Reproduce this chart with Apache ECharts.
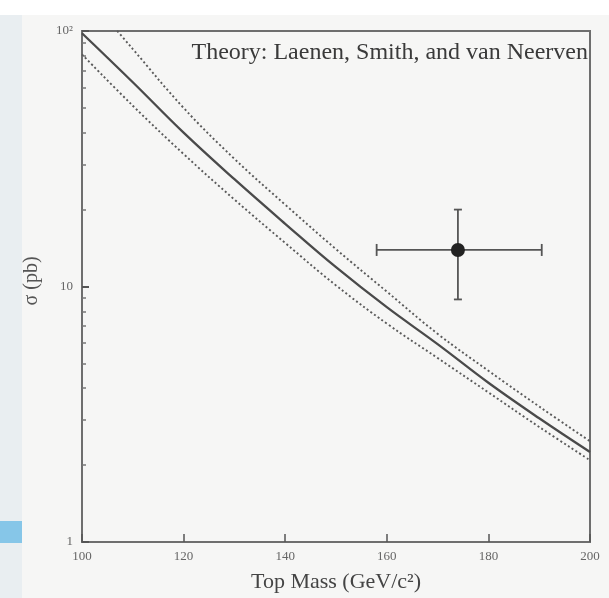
<!DOCTYPE html>
<html>
<head>
<meta charset="utf-8">
<script src="https://cdn.jsdelivr.net/npm/echarts@6/dist/echarts.min.js"></script>
<style>
  html, body { margin: 0; padding: 0; background: #f6f6f5; }
  #chart { width: 609px; height: 598px; }
</style>
</head>
<body>
<div id="chart"></div>
<script>
// top mass (GeV/c^2) where the theory curves are read
const masses = [100, 110, 120, 130, 140, 150, 160, 170, 180, 190, 200];
// theory cross sections (pb): central, upper and lower bound
const sigmaCentral = [98, 63, 40, 26.3, 17.6, 11.9, 8.3, 5.95, 4.2, 3.05, 2.25];
const sigmaUpper = [145, 85, 50, 31.6, 20.9, 14.0, 9.55, 6.53, 4.68, 3.39, 2.48];
const sigmaLower = [81, 51, 33, 21.9, 14.8, 10.1, 7.16, 5.25, 3.85, 2.82, 2.09];
// measured point: mass, sigma, mass low, mass high, sigma low, sigma high
const measured = [[174, 13.9, 158, 190.5, 8.9, 20.0]];
// axis ticks
const xTicks = [100, 120, 140, 160, 180, 200];
const yMajor = [1, 10, 100];
const yMinor = [2, 3, 4, 5, 6, 7, 8, 9, 20, 30, 40, 50, 60, 70, 80, 90];

const serif = "'Liberation Serif', 'DejaVu Serif', serif";
const axisCol = '#6e6e6e';

function pairs(ys) {
  return masses.map((m, i) => [m, ys[i]]);
}

const chart = echarts.init(document.getElementById('chart'));

chart.setOption({
  backgroundColor: '#f6f6f5',
  animation: false,
  grid: { left: 82, right: 19, top: 31, bottom: 55, show: true, borderColor: axisCol, borderWidth: 2, backgroundColor: 'transparent' },
  xAxis: {
    type: 'value', min: 100, max: 200, interval: 20,
    axisLine: { lineStyle: { color: axisCol, width: 2 } },
    axisTick: { inside: true, length: 8, lineStyle: { color: '#555', width: 1.5 } },
    splitLine: { show: false },
    axisLabel: { color: '#666', fontFamily: serif, fontSize: 13, margin: 8, customValues: xTicks },
    name: 'Top Mass (GeV/c²)', nameLocation: 'middle', nameGap: 29,
    nameTextStyle: { color: '#444', fontFamily: serif, fontSize: 22 }
  },
  yAxis: [{
    type: 'log', logBase: 10, min: 1, max: 100,
    axisLine: { show: true, lineStyle: { color: axisCol, width: 2 } },
    axisTick: { show: true, inside: true, length: 7, customValues: yMajor, lineStyle: { color: '#555', width: 2 } },
    splitLine: { show: false },
    axisLabel: {
      color: '#666', fontFamily: serif, fontSize: 13, margin: 9, customValues: yMajor,
      formatter: v => (v === 100 ? '10²' : String(v))
    }
  }, {
    type: 'log', logBase: 10, min: 1, max: 100, position: 'left',
    axisLine: { show: false },
    axisTick: { show: true, inside: true, length: 4, customValues: yMinor, lineStyle: { color: '#777', width: 1.5 } },
    splitLine: { show: false },
    axisLabel: { show: false }
  }],
  graphic: [
    { type: 'rect', z: -10, shape: { x: 0, y: 15, width: 22, height: 583 }, style: { fill: '#e9eef1' } },
    { type: 'rect', z: -9, shape: { x: 0, y: 521, width: 22, height: 22 }, style: { fill: '#86c6e8' } },
    { type: 'rect', z: -10, shape: { x: 0, y: 0, width: 609, height: 15 }, style: { fill: '#ffffff' } },
    {
      type: 'text', right: 21, top: 41,
      style: { text: 'Theory: Laenen, Smith, and van Neerven', fill: '#3a3a3a', font: '24px ' + serif }
    },
    {
      type: 'text', x: 32, y: 281, rotation: Math.PI / 2,
      style: { text: 'σ (pb)', fill: '#555', font: '20px ' + serif, align: 'center', verticalAlign: 'middle' }
    }
  ],
  series: [
    {
      type: 'line', name: 'upper', data: pairs(sigmaUpper), smooth: 0.4, showSymbol: false,
      lineStyle: { color: '#5a5a5a', width: 1.9, type: [2, 2.5] }
    },
    {
      type: 'line', name: 'central', data: pairs(sigmaCentral), smooth: 0.4, showSymbol: false,
      lineStyle: { color: '#4a4a4a', width: 2.3 }
    },
    {
      type: 'line', name: 'lower', data: pairs(sigmaLower), smooth: 0.4, showSymbol: false,
      lineStyle: { color: '#5a5a5a', width: 1.9, type: [2, 2.5] }
    },
    {
      type: 'custom', name: 'CDF', data: measured,
      encode: { x: [0, 2, 3], y: [1, 4, 5] },
      renderItem: function (params, api) {
        const c = api.coord([api.value(0), api.value(1)]);
        const l = api.coord([api.value(2), api.value(1)]);
        const r = api.coord([api.value(3), api.value(1)]);
        const b = api.coord([api.value(0), api.value(4)]);
        const t = api.coord([api.value(0), api.value(5)]);
        const st = { stroke: '#555', lineWidth: 1.8 };
        return {
          type: 'group',
          children: [
            { type: 'line', shape: { x1: l[0], y1: l[1], x2: r[0], y2: r[1] }, style: st },
            { type: 'line', shape: { x1: b[0], y1: b[1], x2: t[0], y2: t[1] }, style: st },
            { type: 'line', shape: { x1: l[0], y1: l[1] - 6, x2: l[0], y2: l[1] + 6 }, style: st },
            { type: 'line', shape: { x1: r[0], y1: r[1] - 6, x2: r[0], y2: r[1] + 6 }, style: st },
            { type: 'line', shape: { x1: t[0] - 4, y1: t[1], x2: t[0] + 4, y2: t[1] }, style: st },
            { type: 'line', shape: { x1: b[0] - 4, y1: b[1], x2: b[0] + 4, y2: b[1] }, style: st },
            { type: 'circle', shape: { cx: c[0], cy: c[1], r: 7 }, style: { fill: '#222' } }
          ]
        };
      }
    }
  ]
});
</script>
</body>
</html>
